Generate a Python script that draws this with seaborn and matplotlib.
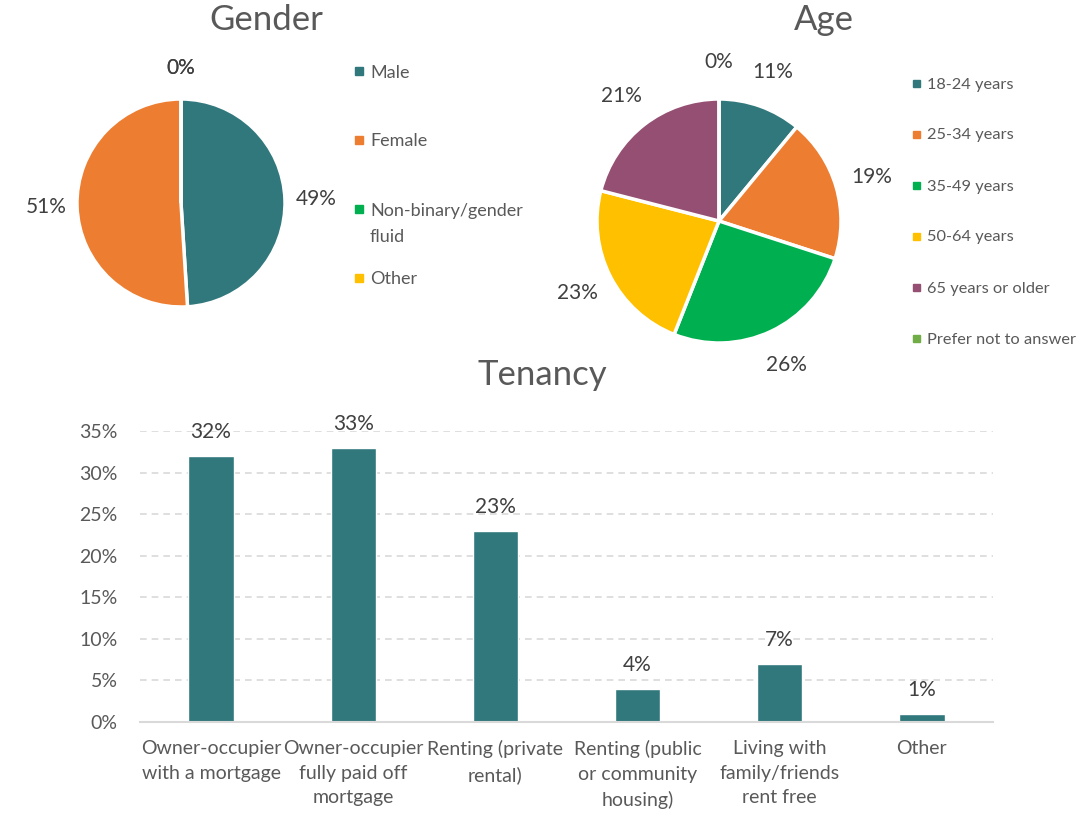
import matplotlib
matplotlib.use('Agg')
import matplotlib.pyplot as plt
from matplotlib.patches import Rectangle
from matplotlib.ticker import MultipleLocator, PercentFormatter
import seaborn as sns
import pandas as pd

# data
gender_labels = ['Male', 'Female', 'Non-binary/gender\nfluid', 'Other']
gender_values = [49, 51, 0, 0]
gender_colors = ['#31787D', '#ED7D31', '#00B050', '#FFC000']

age_labels = ['18-24 years', '25-34 years', '35-49 years', '50-64 years',
              '65 years or older', 'Prefer not to answer']
age_values = [11, 19, 26, 23, 21, 0]
age_colors = ['#31787D', '#ED7D31', '#00B050', '#FFC000', '#954F72', '#70AD47']

tenancy_labels = ['Owner-occupier\nwith a mortgage',
                  'Owner-occupier\nfully paid off\nmortgage',
                  'Renting (private\nrental)',
                  'Renting (public\nor community\nhousing)',
                  'Living with\nfamily/friends\nrent free',
                  'Other']
tenancy_values = [0.32, 0.33, 0.23, 0.04, 0.07, 0.01]

W, H = 1092, 815
sns.set_theme(style='white')
plt.rcParams['font.family'] = ['Lato', 'DejaVu Sans']
grey = '#595959'
dark = '#404040'

fig = plt.figure(figsize=(W / 100, H / 100), dpi=100)


def pie_axes(cx, cy, r):
    return fig.add_axes([(cx - r) / W, 1 - (cy + r) / H, 2 * r / W, 2 * r / H])


def legend_rows(x, y0, dy, labels, colors, size, fs, lh=27):
    # Excel-like legend: fixed slot per entry, marker on the first text line
    for i, (lab, col) in enumerate(zip(labels, colors)):
        y = y0 + i * dy
        fig.add_artist(Rectangle((x / W, 1 - (y + size / 2) / H), size / W, size / H,
                                 color=col, transform=fig.transFigure))
        for j, line in enumerate(lab.split('\n')):
            fig.text((x + size + 7) / W, 1 - (y + j * lh) / H, line, color=grey,
                     fontsize=fs, va='center_baseline', ha='left')


def draw_pie(ax, values, colors, dist):
    ax.pie(values, colors=colors, startangle=90, counterclock=False,
           autopct=lambda p: f'{p:.0f}%', pctdistance=dist,
           wedgeprops=dict(edgecolor='white', linewidth=2.5),
           textprops=dict(color=dark, fontsize=15))
    ax.set_xlim(-1, 1)
    ax.set_ylim(-1, 1)


# Gender
ax1 = pie_axes(181, 203, 104)
draw_pie(ax1, gender_values, gender_colors, 1.3)
fig.text(266 / W, 1 - 20 / H, 'Gender', ha='center', va='center', fontsize=25, color=grey)
legend_rows(355, 71, 69, gender_labels, gender_colors, 8, 13)

# Age
ax2 = pie_axes(719, 221, 122)
draw_pie(ax2, age_values, age_colors, 1.3)
fig.text(824 / W, 1 - 20 / H, 'Age', ha='center', va='center', fontsize=25, color=grey)
legend_rows(913, 83, 51, age_labels, age_colors, 7, 11.8)

# Tenancy
fig.text(542 / W, 1 - 375 / H, 'Tenancy', ha='center', va='center', fontsize=25, color=grey)
ax3 = fig.add_axes([140 / W, 1 - 722 / H, 853 / W, (722 - 431) / H])
df = pd.DataFrame({'Tenancy': tenancy_labels, 'Share': tenancy_values})
sns.barplot(data=df, x='Tenancy', y='Share', color='#31787D', width=0.32,
            saturation=1, ax=ax3)
ax3.set_ylim(0, 0.35)
ax3.set_xlim(-0.5, 5.5)
ax3.yaxis.set_major_locator(MultipleLocator(0.05))
ax3.yaxis.set_major_formatter(PercentFormatter(1, decimals=0))
ax3.grid(axis='y', linestyle=(0, (4, 3)), color='#D9D9D9', linewidth=1.2)
ax3.set_axisbelow(True)
for s in ['top', 'right', 'left']:
    ax3.spines[s].set_visible(False)
ax3.spines['bottom'].set_color('#D9D9D9')
ax3.spines['bottom'].set_linewidth(1.5)
ax3.set_xlabel('')
ax3.set_ylabel('')
ax3.tick_params(axis='y', length=0, pad=16, labelsize=14, labelcolor=grey)
ax3.tick_params(axis='x', length=0, pad=13, labelsize=14, labelcolor=grey)
for t in ax3.get_xticklabels():
    t.set_linespacing(1.55)
ax3.bar_label(ax3.containers[0], labels=[f'{v:.0%}' for v in tenancy_values],
              padding=10, color=dark, fontsize=15)

fig.savefig('out.png', dpi=100)
